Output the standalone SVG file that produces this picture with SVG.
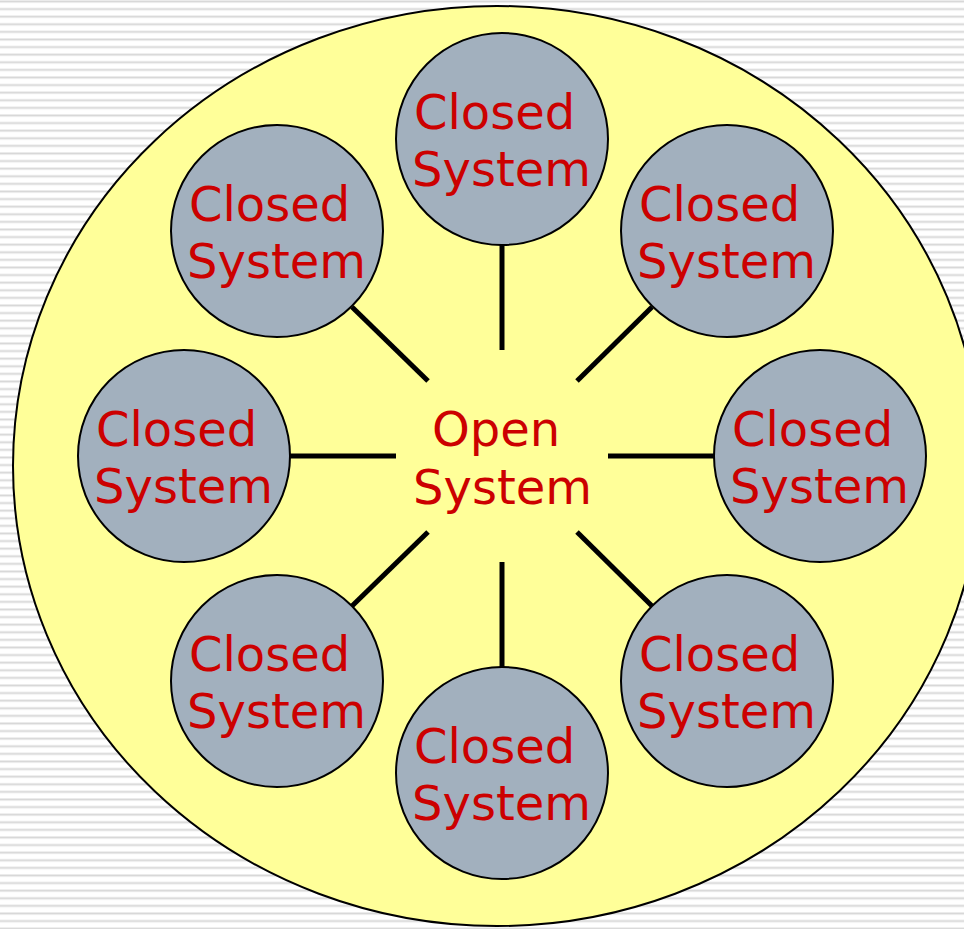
<svg xmlns="http://www.w3.org/2000/svg" width="964" height="929" viewBox="0 0 964 929">
  <defs>
    <pattern id="stripes" width="16" height="7.6" patternUnits="userSpaceOnUse">
      <rect width="16" height="7.6" fill="#ffffff"/>
      <rect y="0" width="16" height="3" fill="#ececec"/>
      <rect y="1" width="16" height="1" fill="#d6d6d6"/>
    </pattern>
  </defs>
  <style>
    .sub { fill: #a2b0be; stroke: #000; stroke-width: 2; }
    .link { stroke: #000; stroke-width: 5; fill: none; }
    .lbl { font-family: "DejaVu Sans", "Liberation Sans", sans-serif; font-size: 48px; fill: #cc0000; }
  </style>

  <rect width="964" height="929" fill="url(#stripes)"/>

  <!-- environment -->
  <g id="open-system">
    <ellipse cx="497" cy="466" rx="484" ry="460" fill="#ffff99" stroke="#000" stroke-width="2"/>
    <text class="lbl" x="432" y="446">Open</text>
    <text class="lbl" x="413" y="504">System</text>
  </g>

  <!-- spokes -->
  <g id="connectors">
    <line class="link" x1="502" y1="245" x2="502" y2="350"/>
    <line class="link" x1="502" y1="562" x2="502" y2="668"/>
    <line class="link" x1="290" y1="456" x2="396" y2="456"/>
    <line class="link" x1="608" y1="456" x2="714" y2="456"/>
    <line class="link" x1="352" y1="307" x2="428" y2="381"/>
    <line class="link" x1="652" y1="307" x2="577" y2="381"/>
    <line class="link" x1="352" y1="606" x2="428" y2="532"/>
    <line class="link" x1="652" y1="606" x2="577" y2="532"/>
  </g>

  <g id="closed-top">
    <circle class="sub" cx="502" cy="139" r="106"/>
    <text class="lbl" x="414" y="129">Closed</text>
    <text class="lbl" x="412" y="186">System</text>
  </g>
  <g id="closed-top-left">
    <circle class="sub" cx="277" cy="231" r="106"/>
    <text class="lbl" x="189" y="221">Closed</text>
    <text class="lbl" x="187" y="278">System</text>
  </g>
  <g id="closed-top-right">
    <circle class="sub" cx="727" cy="231" r="106"/>
    <text class="lbl" x="639" y="221">Closed</text>
    <text class="lbl" x="637" y="278">System</text>
  </g>
  <g id="closed-left">
    <circle class="sub" cx="184" cy="456" r="106"/>
    <text class="lbl" x="96" y="446">Closed</text>
    <text class="lbl" x="94" y="503">System</text>
  </g>
  <g id="closed-right">
    <circle class="sub" cx="820" cy="456" r="106"/>
    <text class="lbl" x="732" y="446">Closed</text>
    <text class="lbl" x="730" y="503">System</text>
  </g>
  <g id="closed-bottom-left">
    <circle class="sub" cx="277" cy="681" r="106"/>
    <text class="lbl" x="189" y="671">Closed</text>
    <text class="lbl" x="187" y="728">System</text>
  </g>
  <g id="closed-bottom-right">
    <circle class="sub" cx="727" cy="681" r="106"/>
    <text class="lbl" x="639" y="671">Closed</text>
    <text class="lbl" x="637" y="728">System</text>
  </g>
  <g id="closed-bottom">
    <circle class="sub" cx="502" cy="773" r="106"/>
    <text class="lbl" x="414" y="763">Closed</text>
    <text class="lbl" x="412" y="820">System</text>
  </g>
</svg>
